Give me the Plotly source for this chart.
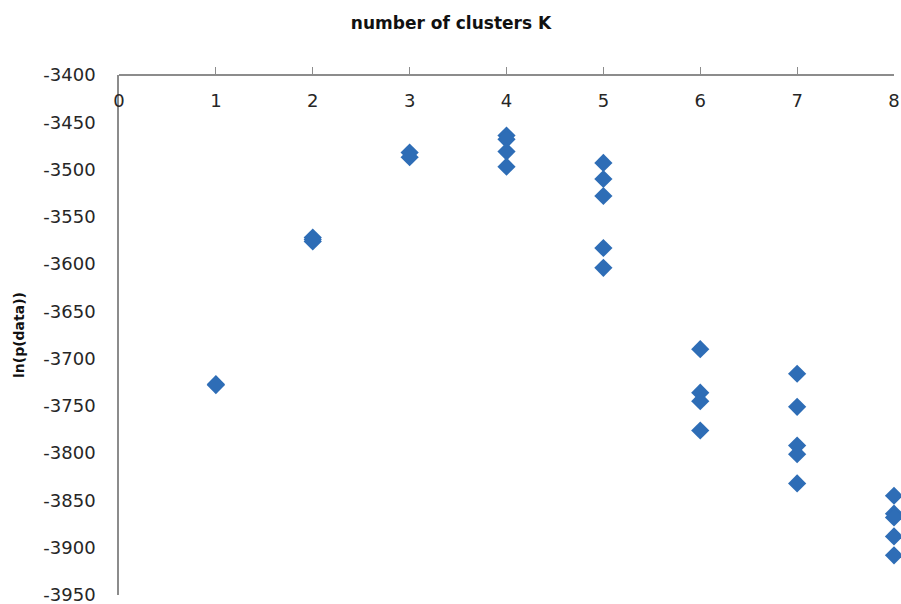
import plotly.graph_objects as go

# Data (K, ln(p(data)))
k_values = [1, 1,
            2, 2, 2,
            3, 3,
            4, 4, 4, 4,
            5, 5, 5, 5, 5,
            6, 6, 6, 6,
            7, 7, 7, 7, 7,
            8, 8, 8, 8, 8]
log_likelihood = [-3727, -3728,
                  -3572, -3574, -3576,
                  -3482, -3487,
                  -3464, -3468, -3481, -3497,
                  -3493, -3510, -3528, -3583, -3604,
                  -3690, -3736, -3745, -3776,
                  -3716, -3751, -3792, -3801, -3832,
                  -3845, -3864, -3868, -3888, -3908]

x_ticks = [0, 1, 2, 3, 4, 5, 6, 7, 8]
y_ticks = list(range(-3950, -3399, 50))

FONT = "DejaVu Sans, sans-serif"
BLUE = "#2E6DB6"
AXIS = "#8C8C8C"

W, H = 901, 604

fig = go.Figure()
fig.add_trace(go.Scatter(
    x=k_values, y=log_likelihood, mode="markers",
    marker=dict(symbol="diamond", size=14, color=BLUE),
    cliponaxis=False, showlegend=False,
))

fig.update_layout(
    template="none",
    width=W, height=H,
    margin=dict(l=119, r=7, t=75, b=9),
    paper_bgcolor="white", plot_bgcolor="white",
    font=dict(family=FONT, size=18, color="#262626"),
    title=dict(text="<b>number of clusters K</b>", xref="container", x=451 / W,
               xanchor="center", yref="container", y=1 - 23 / H,
               yanchor="middle", font=dict(family=FONT, size=17, color="#111111")),
)
fig.update_xaxes(
    range=[0, 8], anchor="free", position=1, side="bottom",
    tickvals=x_ticks, ticktext=[str(v) for v in x_ticks],
    showline=True, linecolor=AXIS, linewidth=1.5,
    ticks="inside", ticklen=7, tickcolor=AXIS, tickwidth=1,
    ticklabelstandoff=10, ticklabeloverflow="allow", automargin=False,
    showgrid=False, zeroline=False,
)
fig.update_yaxes(
    range=[-3950, -3400], tickvals=y_ticks, ticktext=[str(v) for v in y_ticks],
    showline=True, linecolor=AXIS, linewidth=1.5,
    ticks="", ticklabelstandoff=18, ticklabeloverflow="allow", automargin=False,
    showgrid=False, zeroline=False,
    title=dict(text="<b>ln(p(data))</b>", standoff=15,
               font=dict(family=FONT, size=14, color="#111111")),
)

fig.write_html(
    "out.html",
    config={"displayModeBar": False},
    post_script="document.body.style.margin='0px';document.body.style.overflow='hidden';",
)
